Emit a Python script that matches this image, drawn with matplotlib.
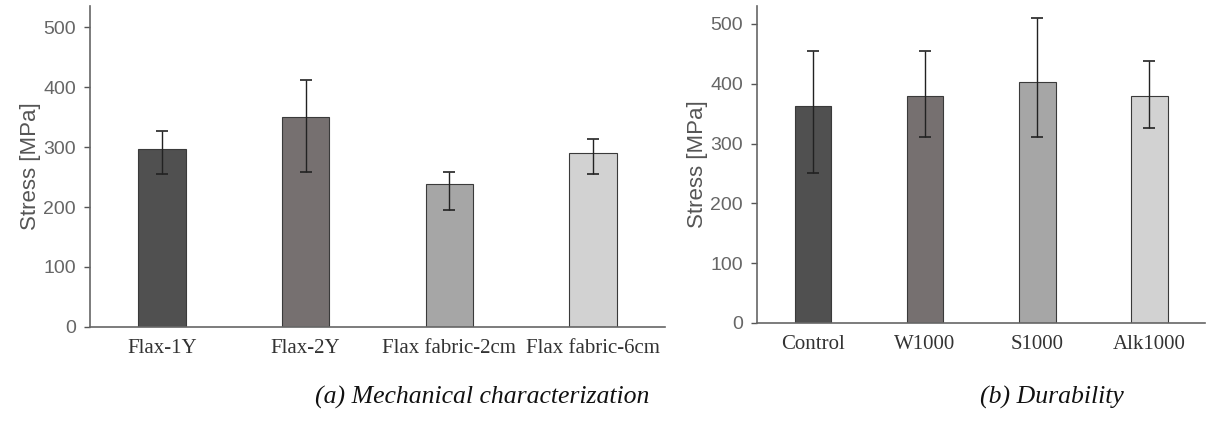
import matplotlib
matplotlib.use("Agg")
import matplotlib.pyplot as plt
import numpy as np

# (a) mechanical characterization
mech_labels = ["Flax-1Y", "Flax-2Y", "Flax fabric-2cm", "Flax fabric-6cm"]
mech_mean = [297, 350, 238, 290]
mech_err_low = [42, 92, 43, 35]
mech_err_high = [30, 62, 20, 23]

# (b) durability
dur_labels = ["Control", "W1000", "S1000", "Alk1000"]
dur_mean = [363, 380, 403, 380]
dur_err_low = [112, 69, 92, 54]
dur_err_high = [92, 75, 107, 58]

bar_colors = ["#505050", "#767070", "#a6a6a6", "#d2d2d2"]
yticks = [0, 100, 200, 300, 400, 500]

plt.rcParams["font.family"] = ["Liberation Serif", "DejaVu Serif"]

fig = plt.figure(figsize=(12.06, 4.26), dpi=100)
ax1 = fig.add_axes([0.0746, 0.2324, 0.4768, 0.7535])
ax2 = fig.add_axes([0.6277, 0.2418, 0.3715, 0.744])


def draw(ax, labels, mean, lo, hi, ytop):
    x = np.arange(len(labels))
    ax.bar(x, mean, width=0.33, color=bar_colors, edgecolor="#3a3a3a",
           linewidth=0.8, zorder=2)
    ax.errorbar(x, mean, yerr=[lo, hi], fmt="none", ecolor="#222222",
                elinewidth=1.0, capsize=4, capthick=1.2, zorder=3)
    ax.set_xlim(-0.5, 3.5)
    ax.set_ylim(0, ytop)
    ax.set_xticks(x)
    ax.set_xticklabels(labels, fontsize=15, color="#333333")
    ax.set_yticks(yticks)
    ax.set_yticklabels([str(v) for v in yticks], family="Liberation Sans")
    ax.tick_params(axis="y", labelsize=14, labelcolor="#666666", length=4,
                   width=1.0, color="#555555", pad=6)
    ax.tick_params(axis="x", length=0, pad=9)
    for s in ["top", "right"]:
        ax.spines[s].set_visible(False)
    for s in ["left", "bottom"]:
        ax.spines[s].set_color("#666666")
        ax.spines[s].set_linewidth(1.2)
    ax.set_ylabel("Stress [MPa]", fontsize=16, color="#555555", labelpad=2,
                  family="Liberation Sans")


draw(ax1, mech_labels, mech_mean, mech_err_low, mech_err_high, 535)
draw(ax2, dur_labels, dur_mean, dur_err_low, dur_err_high, 530)

fig.text(0.4, 0.068, "(a) Mechanical characterization", fontsize=18.5,
         style="italic", ha="center", va="center", color="#111111")
fig.text(0.872, 0.068, "(b) Durability", fontsize=18.5,
         style="italic", ha="center", va="center", color="#111111")

fig.savefig("out.png", dpi=100)
